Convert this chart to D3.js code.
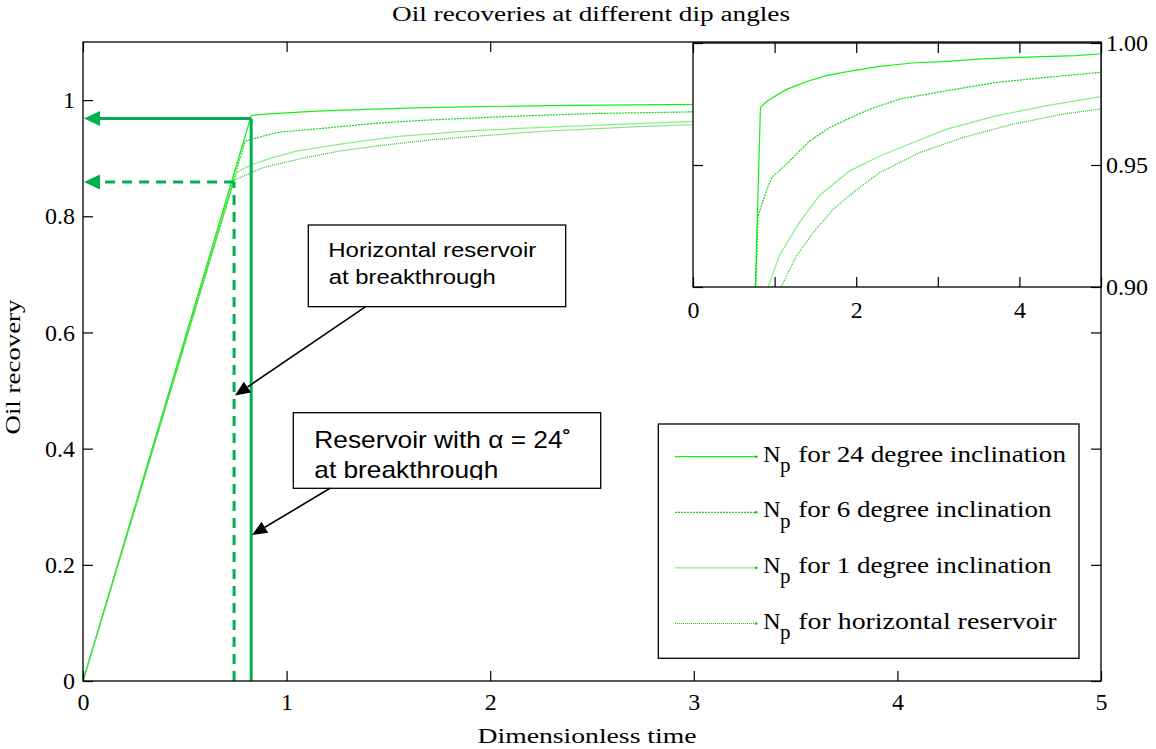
<!DOCTYPE html>
<html><head><meta charset="utf-8">
<script src="https://cdn.jsdelivr.net/npm/d3@7"></script>
<style>body{margin:0;background:#fff;} svg{display:block}</style>
</head><body><svg id="c" width="1156" height="749"></svg>
<script>
// ---------- data ----------
const xTicks = [0, 1, 2, 3, 4, 5];
const yTicks = [0, 0.2, 0.4, 0.6, 0.8, 1];
const insetXTicks = [0, 1, 2, 3, 4, 5];
const insetXLabels = ["0", "", "2", "", "4", ""];
const insetYTicks = [0.90, 0.95, 1.00];

const t24 = [0, 0.826, 0.837, 0.903, 0.979, 1.148, 1.387, 1.632, 1.876, 2.283, 2.691, 3.099, 3.507, 3.996, 4.69, 5.0];
const n24 = [0, 0.973, 0.974, 0.976, 0.9777, 0.981, 0.9841, 0.9866, 0.9882, 0.9904, 0.9918, 0.9925, 0.9934, 0.9941, 0.9948, 0.9956];

const t6 = [0, 0.796, 0.905, 0.968, 1.142, 1.428, 1.672, 1.958, 2.161, 2.528, 3.099, 3.71, 4.322, 5.0];
const n6 = [0, 0.929, 0.940, 0.945, 0.9502, 0.9598, 0.9653, 0.9698, 0.9728, 0.977, 0.9804, 0.9838, 0.9859, 0.988];

const t1 = [0, 0.755, 0.83, 0.93, 1.06, 1.305, 1.55, 1.917, 2.283, 2.691, 3.099, 3.71, 4.322, 5.0];
const n1 = [0, 0.876, 0.889, 0.901, 0.913, 0.9265, 0.9375, 0.9475, 0.9536, 0.9591, 0.9646, 0.9701, 0.9742, 0.978];

const tH = [0, 0.742, 0.886, 1.08, 1.264, 1.468, 1.713, 1.958, 2.283, 2.772, 3.303, 3.914, 4.526, 5.0];
const nH = [0, 0.862, 0.884, 0.900, 0.9125, 0.9221, 0.9317, 0.9386, 0.9468, 0.955, 0.9612, 0.9667, 0.9708, 0.9730];

const legendLabels = ["for 24 degree inclination", "for 6 degree inclination", "for 1 degree inclination", "for horizontal reservoir"];

// breakthrough markers: [horizontal, 24 degree]
const btTimes = [0.742, 0.826];
const btRecovery = [0.859, 0.9685];

// ---------- layout ----------
const svg = d3.select("#c");
const serif = "'Liberation Serif', 'Times New Roman', serif";
const sans = "'Liberation Sans', Arial, sans-serif";
const x = d3.scaleLinear([0, 5], [83, 1101]);
const y = d3.scaleLinear([0, 1.1], [681, 42]);
const xi = d3.scaleLinear([0, 5], [693, 1101]);
const yi = d3.scaleLinear([0.9, 1.0], [287, 43]);

const styles = [
  {color: "#17ef17", dash: null},
  {color: "#0fd80f", dash: "2,1"},
  {color: "#84f084", dash: null},
  {color: "#1ec81e", dash: "1,1"}
];
const series = [
  d3.zip(t24, n24), d3.zip(t6, n6), d3.zip(t1, n1), d3.zip(tH, nH)
];

const defs = svg.append("defs");
defs.append("clipPath").attr("id", "mainClip").append("rect")
  .attr("x", 83).attr("y", 42).attr("width", 1018).attr("height", 639);
defs.append("clipPath").attr("id", "insetClip").append("rect")
  .attr("x", 693).attr("y", 43).attr("width", 408).attr("height", 244);
defs.append("clipPath").attr("id", "box2Clip").append("rect")
  .attr("x", 293).attr("y", 412).attr("width", 308).attr("height", 68);

// title
svg.append("text").attr("x", 591).attr("y", 21).attr("text-anchor", "middle")
  .attr("font-family", serif).attr("font-size", 20)
  .attr("textLength", 398).attr("lengthAdjust", "spacingAndGlyphs")
  .text("Oil recoveries at different dip angles");

// main curves
const gMain = svg.append("g").attr("clip-path", "url(#mainClip)");
const lineMain = d3.line().x(d => x(d[0])).y(d => y(d[1]));
series.forEach((s, i) => {
  gMain.append("path").attr("d", lineMain(s)).attr("fill", "none")
    .attr("stroke", styles[i].color).attr("stroke-width", 1.2)
    .attr("stroke-dasharray", styles[i].dash);
});

// green breakthrough annotations
const green = "#00b050";
function greenArrow(t, n, dash) {
  const px = x(t), py = y(n);
  svg.append("line").attr("x1", px).attr("y1", y(0)).attr("x2", px).attr("y2", py)
    .attr("stroke", green).attr("stroke-width", 3).attr("stroke-dasharray", dash);
  svg.append("line").attr("x1", px).attr("y1", py).attr("x2", x(0) + 14).attr("y2", py)
    .attr("stroke", green).attr("stroke-width", 3).attr("stroke-dasharray", dash);
  const tx = x(0) + 1;
  svg.append("path").attr("d", `M${tx},${py} L${tx + 16},${py - 7.5} L${tx + 16},${py + 7.5} Z`)
    .attr("fill", green);
}
greenArrow(btTimes[0], btRecovery[0], "10,7");
greenArrow(btTimes[1], btRecovery[1], null);

// main axes
function styleAxis(g) {
  g.select(".domain").remove();
  g.selectAll(".tick line").attr("stroke", "#000").attr("stroke-width", 1.2);
  g.selectAll("text").attr("font-family", serif).attr("font-size", 24).attr("fill", "#000");
}
svg.append("g").attr("transform", "translate(0,681)")
  .call(d3.axisBottom(x).tickValues(xTicks).tickFormat(d3.format("d")).tickSize(-10).tickPadding(12))
  .call(styleAxis);
svg.append("g").attr("transform", "translate(83,0)")
  .call(d3.axisLeft(y).tickValues(yTicks).tickFormat(d => d === 0 ? "0" : d === 1 ? "1" : d3.format(".1f")(d)).tickSize(-10).tickPadding(8))
  .call(styleAxis);
svg.append("g").attr("transform", "translate(0,42)")
  .call(d3.axisTop(x).tickValues(xTicks).tickFormat("").tickSize(-10))
  .call(styleAxis);
svg.append("g").attr("transform", "translate(1101,0)")
  .call(d3.axisRight(y).tickValues(yTicks).tickFormat("").tickSize(-10))
  .call(styleAxis);
svg.append("rect").attr("x", 83).attr("y", 42).attr("width", 1018).attr("height", 639)
  .attr("fill", "none").attr("stroke", "#000").attr("stroke-width", 1.3);

// axis titles
svg.append("text").attr("x", 587).attr("y", 743).attr("text-anchor", "middle")
  .attr("font-family", serif).attr("font-size", 20)
  .attr("textLength", 219).attr("lengthAdjust", "spacingAndGlyphs")
  .text("Dimensionless time");
svg.append("text").attr("transform", "translate(20,367) rotate(-90)").attr("text-anchor", "middle")
  .attr("font-family", serif).attr("font-size", 20)
  .attr("textLength", 135).attr("lengthAdjust", "spacingAndGlyphs")
  .text("Oil recovery");

// text boxes with black arrows
function blackArrow(x1, y1, x2, y2) {
  const ang = Math.atan2(y2 - y1, x2 - x1), L = 15, W = 6.5;
  const bx = x2 - L * Math.cos(ang), by = y2 - L * Math.sin(ang);
  svg.append("line").attr("x1", x1).attr("y1", y1).attr("x2", bx).attr("y2", by)
    .attr("stroke", "#000").attr("stroke-width", 1.6);
  const px = -Math.sin(ang) * W, py = Math.cos(ang) * W;
  svg.append("path").attr("d", `M${x2},${y2} L${bx + px},${by + py} L${bx - px},${by - py} Z`).attr("fill", "#000");
}
svg.append("rect").attr("x", 308.3).attr("y", 225).attr("width", 257.4).attr("height", 81.7)
  .attr("fill", "#fff").attr("stroke", "#000").attr("stroke-width", 1.3);
svg.append("text").attr("x", 328.3).attr("y", 257.3).attr("font-family", sans).attr("font-size", 20.5)
  .attr("textLength", 208).attr("lengthAdjust", "spacingAndGlyphs").text("Horizontal reservoir");
svg.append("text").attr("x", 328.7).attr("y", 284).attr("font-family", sans).attr("font-size", 20.5)
  .attr("textLength", 167).attr("lengthAdjust", "spacingAndGlyphs").text("at breakthrough");
blackArrow(365.7, 306.7, 235, 395.5);

svg.append("rect").attr("x", 293.3).attr("y", 412.7).attr("width", 307.4).attr("height", 75.6)
  .attr("fill", "#fff").attr("stroke", "#000").attr("stroke-width", 1.3);
const gB2 = svg.append("g").attr("clip-path", "url(#box2Clip)");
gB2.append("text").attr("x", 314.3).attr("y", 448.3).attr("font-family", sans).attr("font-size", 24)
  .attr("textLength", 257).attr("lengthAdjust", "spacingAndGlyphs").text("Reservoir with α = 24˚");
gB2.append("text").attr("x", 314.3).attr("y", 477.7).attr("font-family", sans).attr("font-size", 24)
  .attr("textLength", 184).attr("lengthAdjust", "spacingAndGlyphs").text("at breakthrough");
blackArrow(330, 488.3, 252, 535);

// legend
svg.append("rect").attr("x", 658.3).attr("y", 424).attr("width", 420.7).attr("height", 234.3)
  .attr("fill", "#fff").attr("stroke", "#000").attr("stroke-width", 1.3);
const legendWidths = [267.7, 253.3, 253.3, 258.3];
legendLabels.forEach((lab, i) => {
  const ly = 456.7 + i * 55.6;
  svg.append("line").attr("x1", 675).attr("x2", 756.7).attr("y1", ly).attr("y2", ly)
    .attr("stroke", styles[i].color).attr("stroke-width", 1.2).attr("stroke-dasharray", styles[i].dash);
  svg.append("rect").attr("x", 755).attr("y", ly - 1).attr("width", 2.5).attr("height", 2).attr("fill", "#12b812");
  const by = ly + 5;
  svg.append("text").attr("x", 763.3).attr("y", by).attr("font-family", serif).attr("font-size", 24).text("N");
  svg.append("text").attr("x", 780).attr("y", by + 10.5).attr("font-family", serif).attr("font-size", 21).text("p");
  svg.append("text").attr("x", 798.3).attr("y", by).attr("font-family", serif).attr("font-size", 24)
    .attr("textLength", legendWidths[i]).attr("lengthAdjust", "spacingAndGlyphs").text(lab);
});

// inset
svg.append("rect").attr("x", 693).attr("y", 43).attr("width", 408).attr("height", 244).attr("fill", "#fff");
const gIn = svg.append("g").attr("clip-path", "url(#insetClip)");
const lineIn = d3.line().x(d => xi(d[0])).y(d => yi(d[1]));
series.forEach((s, i) => {
  gIn.append("path").attr("d", lineIn(s)).attr("fill", "none")
    .attr("stroke", styles[i].color).attr("stroke-width", 1.2)
    .attr("stroke-dasharray", styles[i].dash);
});
svg.append("g").attr("transform", "translate(0,287)")
  .call(d3.axisBottom(xi).tickValues(insetXTicks).tickFormat((d, i) => insetXLabels[i]).tickSize(-10).tickPadding(14))
  .call(styleAxis);
svg.append("g").attr("transform", "translate(0,43)")
  .call(d3.axisTop(xi).tickValues(insetXTicks).tickFormat("").tickSize(-10))
  .call(styleAxis);
svg.append("g").attr("transform", "translate(693,0)")
  .call(d3.axisLeft(yi).tickValues(insetYTicks).tickFormat("").tickSize(-10))
  .call(styleAxis);
svg.append("g").attr("transform", "translate(1101,0)")
  .call(d3.axisRight(yi).tickValues(insetYTicks).tickFormat(d3.format(".2f")).tickSize(-10).tickPadding(5))
  .call(styleAxis);
svg.append("rect").attr("x", 693).attr("y", 43).attr("width", 408).attr("height", 244)
  .attr("fill", "none").attr("stroke", "#000").attr("stroke-width", 1.3);
</script></body></html>
